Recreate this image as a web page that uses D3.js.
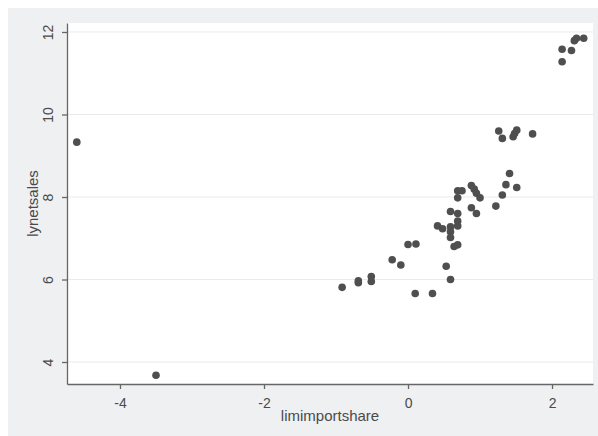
<!DOCTYPE html>
<html>
<head>
<meta charset="utf-8">
<script src="https://cdn.jsdelivr.net/npm/d3@7"></script>
<style>
  body { margin: 0; background: #fff; }
  svg { display: block; font-family: "Liberation Sans", Arial, sans-serif; }
</style>
</head>
<body>
<svg id="chart" width="598" height="436"></svg>
<script>
// limimportshare (x) and lynetsales (y)
const importShare = [
  -4.60, -3.50, -0.915, -0.69, -0.69, -0.51, -0.51, -0.22, -0.10, 0.00,
  0.11, 0.10, 0.34, 0.41, 0.48, 0.53, 0.59, 0.59, 0.59, 0.59,
  0.59, 0.64, 0.69, 0.69, 0.69, 0.69, 0.69, 0.69, 0.75, 0.88,
  0.92, 0.95, 1.00, 0.88, 0.95, 1.22, 1.31, 1.36, 1.41, 1.51,
  1.26, 1.31, 1.46, 1.48, 1.51, 1.73, 2.14, 2.14, 2.27, 2.31,
  2.34, 2.44
];
const netSales = [
  9.33, 3.68, 5.81, 5.92, 5.97, 5.95, 6.07, 6.48, 6.35, 6.85,
  6.86, 5.66, 5.66, 7.30, 7.23, 6.32, 6.00, 7.65, 7.28, 7.16,
  7.02, 6.80, 6.84, 7.60, 7.42, 7.30, 7.98, 8.15, 8.15, 8.28,
  8.19, 8.09, 7.98, 7.74, 7.60, 7.78, 8.05, 8.30, 8.57, 8.23,
  9.60, 9.42, 9.46, 9.54, 9.62, 9.53, 11.58, 11.28, 11.55, 11.79,
  11.85, 11.85
];
const xTicks = [-4, -2, 0, 2];
const yTicks = [4, 6, 8, 10, 12];

const points = importShare.map((v, i) => ({ x: v, y: netSales[i] }));

const svg = d3.select("#chart");
const W = 598, H = 436;
const plot = { left: 67, right: 593, top: 23, bottom: 384 };

// outer graph region
svg.append("rect").attr("x", 8).attr("y", 8)
  .attr("width", W - 8).attr("height", H - 8)
  .attr("fill", "#eff0f2");
svg.append("rect").attr("x", plot.left).attr("y", plot.top)
  .attr("width", plot.right - plot.left).attr("height", plot.bottom - plot.top)
  .attr("fill", "#fff");

const x = d3.scaleLinear().domain([-4.736, 2.569]).range([plot.left, plot.right]);
const y = d3.scaleLinear().domain([3.467, 12.218]).range([plot.bottom, plot.top]);

// grid lines
svg.append("g").selectAll("line").data(yTicks).join("line")
  .attr("x1", plot.left).attr("x2", plot.right)
  .attr("y1", d => y(d)).attr("y2", d => y(d))
  .attr("stroke", "#eaeaea").attr("stroke-width", 1);

// points
svg.append("g").selectAll("circle").data(points).join("circle")
  .attr("cx", d => x(d.x)).attr("cy", d => y(d.y))
  .attr("r", 3.8).attr("fill", "#4f4f4f");

// plain hyphen minus like the original
const fmt = d => String(d);

// Y axis
const yAxis = svg.append("g")
  .attr("transform", `translate(${plot.left},0)`)
  .call(d3.axisLeft(y).tickValues(yTicks).tickSize(5).tickSizeOuter(0).tickFormat(fmt));
yAxis.selectAll("text")
  .attr("transform", "rotate(-90)")
  .attr("x", 0).attr("y", -14).attr("dy", 0)
  .attr("text-anchor", "middle");

// X axis
const xAxis = svg.append("g")
  .attr("transform", `translate(0,${plot.bottom})`)
  .call(d3.axisBottom(x).tickValues(xTicks).tickSize(5).tickSizeOuter(0).tickFormat(fmt));
xAxis.selectAll("text").attr("y", 24).attr("dy", 0);

[yAxis, xAxis].forEach(a => {
  a.selectAll("path, line").attr("stroke", "#666").attr("stroke-width", 1.3);
  a.selectAll("text").attr("fill", "#4a4a4a")
    .style("font-size", "14px").style("font-family", "Liberation Sans, Arial, sans-serif");
});

// axis titles
svg.append("text")
  .attr("transform", `translate(38,${(plot.top + plot.bottom) / 2}) rotate(-90)`)
  .attr("text-anchor", "middle")
  .attr("fill", "#4a4a4a").style("font-size", "15px")
  .text("lynetsales");
svg.append("text")
  .attr("x", (plot.left + plot.right) / 2).attr("y", 421)
  .attr("text-anchor", "middle")
  .attr("fill", "#4a4a4a").style("font-size", "15px")
  .text("limimportshare");
</script>
</body>
</html>
